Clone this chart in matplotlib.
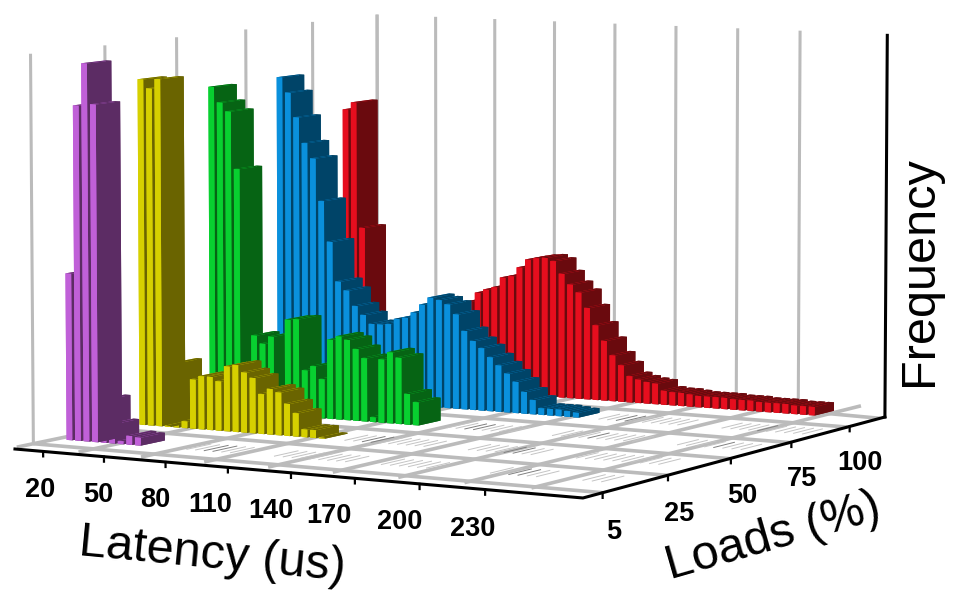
# 3D latency histogram

import numpy as np
import matplotlib
matplotlib.use("Agg")
import matplotlib.pyplot as plt
from mpl_toolkits.mplot3d import proj3d

plt.rcParams["font.family"] = ["Liberation Sans", "DejaVu Sans"]

#######################################################
# DATA
#######################################################

latency_ticks = [20, 50, 80, 110, 140, 170, 200, 230]
load_ticks = ["5", "25", "50", "75", "100"]

load5 = [170, 341, 384, 343, 44, 20, 3, 9, 8]
load25 = [358, 349, 359, 1, 67, 7, 51, 55, 55, 51, 67, 69, 62, 57, 41, 47, 44, 33, 24, 8, 8, 1]
load50 = [341, 325, 316, 256, 4, 82, 74, 82, 5, 101, 102, 49, 54, 41, 83, 87, 84, 75, 66, 5, 66, 74, 69, 32, 24]
load75 = [342, 326, 300, 273, 257, 212, 169, 127, 118, 102, 93, 84, 84, 85, 91, 93, 99, 108, 116, 114, 110, 100,
          83, 73, 66, 57, 49, 41, 33, 23, 15, 7, 7, 7, 6, 5]
load100 = [298, 306, 170, 50, 45, 40, 40, 40, 45, 48, 52, 56, 60, 70, 80, 97, 107, 111, 114, 125, 127, 137, 146,
           148, 149, 146, 133, 122, 114, 98, 80, 64, 49, 39, 28, 25, 23, 22, 15, 14, 14, 13, 12, 12, 12, 12, 11,
           11, 11, 10, 10, 10, 10, 9, 9, 9]

# bars drawn before the tall ones next to them
load5_behind = [4, 5]
load25_behind = [4]
load50_behind = [8]
load75_behind = []
load100_behind = []

# runs of empty bins, they show as thin marks on the floor
load5_empty = [(14, 20), (24, 33), (36, 42), (48, 54), (58, 61)]
load25_empty = [(24, 34), (38, 46), (50, 60)]
load50_empty = [(28, 36), (40, 50), (54, 62)]
load75_empty = [(38, 48), (52, 62)]
load100_empty = []

# empty bins with a darker mark
load5_dark = [16, 17, 50, 51]
load25_dark = [26, 27, 42, 43]
load50_dark = [30, 31, 44, 58]
load75_dark = [40, 41, 56]
load100_dark = []

# small corrections to the label places, in latency units
latency_label_shift = [3.5, 2, 0, -3.5, -4.5, -7, -4, -0.5]

#######################################################
# CAMERA
#######################################################

ELEV = 5.786
AZIM = -60.403
FOCAL = 1.1992
ASPECT = (1, 1.0059, 0.5816)
SCALE = 5315.86
TX = 492.44
TY = 236.39

X0 = 5.0
X1 = 5.0 + 30 * 9.15
Z1 = 395.0
BIN = 4.168
BAR_W = 2.8
BAR_D = 0.33
BAR_FRONT = 0.2
FIRST_BAR = 10.29

# black axis corners on the floor
LEFT_END = (7.5, -0.311)
CORNER = (275.6, -0.477)
RIGHT_END = (270.2, 4.489)

#######################################################
# DRAW
#######################################################

fig = plt.figure(figsize=(9.69, 5.96), dpi=100)
ax = fig.add_subplot(projection="3d")
ax.computed_zorder = False
ax.set_axis_off()
ax.set_proj_type("persp", focal_length=FOCAL)
ax.view_init(ELEV, AZIM)
ax.set_box_aspect(ASPECT)

x2d = ax.viewLim.intervalx
y2d = ax.viewLim.intervaly
w_px = SCALE * (x2d[1] - x2d[0])
h_px = SCALE * (y2d[1] - y2d[0])
left_px = TX + SCALE * x2d[0]
top_px = TY - SCALE * y2d[1]
ax.set_position([left_px / 969, 1 - (top_px + h_px) / 596, w_px / 969, h_px / 596])

rows = [
    (load100, load100_behind, load100_empty, load100_dark, 4.5, "#E60E1E", "#6A0A0E"),
    (load75, load75_behind, load75_empty, load75_dark, 3.5, "#0A90DC", "#004468"),
    (load50, load50_behind, load50_empty, load50_dark, 2.5, "#08D030", "#066414"),
    (load25, load25_behind, load25_empty, load25_dark, 1.5, "#D6D000", "#6A6400"),
    (load5, load5_behind, load5_empty, load5_dark, 0.5, "#C060D8", "#5C2C64"),
]

load_tick_y = [-0.18 + 1.01 * k for k in range(5)]


def right_axis_x(y):
    t = (y - CORNER[1]) / (RIGHT_END[1] - CORNER[1])
    return CORNER[0] + t * (RIGHT_END[0] - CORNER[0])


def front_axis_y(x):
    t = (x - LEFT_END[0]) / (CORNER[0] - LEFT_END[0])
    return LEFT_END[1] + t * (CORNER[1] - LEFT_END[1])


GRAY = "#BBBBBB"
for k in range(0, 9):
    xk = X0 + 30 * k
    ax.plot([xk, xk], [-0.22, 5], [0, 0], color=GRAY, lw=2.6, zorder=1, solid_capstyle="butt")
for k in range(0, 8):
    xk = X0 + 30 * k
    ax.plot([xk, xk], [5, 5], [0, Z1], color=GRAY, lw=2.2, zorder=0.5, solid_capstyle="butt")
for k in range(0, 6):
    end_y = min(k - 0.18, 4.4)
    ax.plot([X0, right_axis_x(end_y)], [k, end_y], [0, 0], color=GRAY, lw=2.6, zorder=1, solid_capstyle="butt")
    ax.plot([X0, X0], [k, k], [0, Z1], color=GRAY, lw=2.2, zorder=0.5, solid_capstyle="butt")

order = 10
for values, behind, empty, dark_marks, yc, light, dark in rows:
    y_front = yc - BAR_FRONT
    for start, stop in empty:
        for i in range(start, stop):
            xi = FIRST_BAR + BIN * i
            mark = "#808080" if i in dark_marks else "#C4C4C4"
            ax.plot([xi, xi], [y_front, y_front + BAR_D], [0, 0], color=mark, lw=0.7, zorder=2)
    idx = list(behind) + [i for i in range(len(values)) if i not in behind]
    for i in idx:
        order += 1
        xi = FIRST_BAR + BIN * i
        colours = [dark, dark, light, dark, light, dark]
        ax.bar3d(xi, y_front, 0, BAR_W, BAR_D, values[i], color=colours, shade=False,
                 zorder=order, edgecolor="none")

order += 1
ax.plot([LEFT_END[0], CORNER[0], RIGHT_END[0]], [LEFT_END[1], CORNER[1], RIGHT_END[1]], [0, 0, 0],
        color="black", lw=2.2, zorder=order)
ax.plot([RIGHT_END[0], RIGHT_END[0]], [RIGHT_END[1], RIGHT_END[1]], [0, Z1 * 1.01], color="black", lw=2.2,
        zorder=order)

ax.set_xlim(X0, X1)
ax.set_ylim(0, 5)
ax.set_zlim(0, Z1)

M = ax.get_proj()
for lat, shift in zip(latency_ticks, latency_label_shift):
    xt = lat + 1.5
    yt = front_axis_y(xt)
    ax.plot([xt, xt], [yt, yt], [0, -5], color="black", lw=1.6, zorder=order)
    u, v, _ = proj3d.proj_transform(xt - 5 + shift, yt, -39, M)
    ax.text2D(u, v, str(lat), transform=ax.transData, fontsize=19.5, fontweight="bold", ha="center", va="center")
for y_tick, lab in zip(load_tick_y, load_ticks):
    xt = right_axis_x(y_tick)
    ax.plot([xt, xt], [y_tick, y_tick], [0, -5], color="black", lw=1.6, zorder=order)
    u, v, _ = proj3d.proj_transform(xt + 5, y_tick, -37, M)
    ax.text2D(u, v, lab, transform=ax.transData, fontsize=19.5, fontweight="bold", ha="center", va="center")

ax.set_xlim(X0, X1)
ax.set_ylim(0, 5)
ax.set_zlim(0, Z1)

fig.text(212 / 969, 1 - 555 / 596, "Latency (us)", fontsize=35, rotation=-5.5, ha="center", va="center",
         rotation_mode="anchor")
fig.text(773 / 969, 1 - 537 / 596, "Loads (%)", fontsize=35, rotation=16, ha="center", va="center",
         rotation_mode="anchor")
fig.text(920 / 969, 1 - 271 / 596, "Frequency", fontsize=35, rotation=90, ha="center", va="center",
         rotation_mode="anchor")

fig.savefig("out.png", dpi=100)
